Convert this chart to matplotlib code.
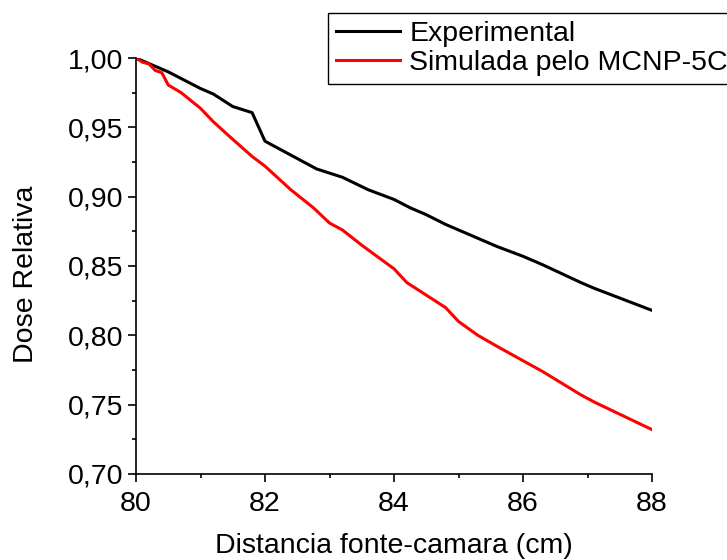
import matplotlib
matplotlib.use("Agg")
import matplotlib.pyplot as plt
from matplotlib.ticker import MultipleLocator, FuncFormatter

plt.rcParams['font.family'] = ['Liberation Sans', 'DejaVu Sans']

exp_x = [80.0, 80.2, 80.5, 81.0, 81.2, 81.5, 81.8, 82.0, 82.4, 82.8, 83.2, 83.6,
         84.0, 84.25, 84.5, 84.8, 85.2, 85.6, 86.0, 86.3, 86.9, 87.1, 88.0]
exp_y = [1.000, 0.996, 0.990, 0.978, 0.974, 0.965, 0.9606, 0.940, 0.930, 0.920, 0.914, 0.905,
         0.898, 0.892, 0.887, 0.880, 0.872, 0.864, 0.857, 0.851, 0.838, 0.834, 0.818]

sim_x = [80.0, 80.1, 80.2, 80.3, 80.4, 80.5, 80.7, 81.0, 81.2, 81.46, 81.8, 82.0,
         82.4, 82.75, 83.0, 83.2, 83.5, 84.0, 84.2, 84.8, 85.0, 85.3, 85.6, 86.3,
         86.9, 87.1, 88.0]
sim_y = [1.000, 0.997, 0.9957, 0.991, 0.9894, 0.9805, 0.975, 0.9637, 0.954, 0.943, 0.929, 0.922,
         0.905, 0.892, 0.881, 0.876, 0.865, 0.848, 0.838, 0.820, 0.810, 0.800, 0.792, 0.774,
         0.757, 0.752, 0.732]

FS = 20.5

fig = plt.figure(figsize=(7.27, 5.6), dpi=100)
ax = fig.add_axes([136/727, 86/560, (652-136)/727, (474-58)/560])

l1, = ax.plot(exp_x, exp_y, color='black', lw=2.2, label='Experimental')
l2, = ax.plot(sim_x, sim_y, color='#ff0000', lw=2.2, label='Simulada pelo MCNP-5C')

ax.set_xlim(80, 88)
ax.set_ylim(0.70, 1.00)
ax.xaxis.set_major_locator(MultipleLocator(2))
ax.xaxis.set_minor_locator(MultipleLocator(1))
ax.yaxis.set_major_locator(MultipleLocator(0.05))
ax.yaxis.set_minor_locator(MultipleLocator(0.025))
ax.yaxis.set_major_formatter(FuncFormatter(lambda v, p: f"{v:.2f}".replace('.', ',')))

for s in ['top', 'right']:
    ax.spines[s].set_visible(False)
for s in ['left', 'bottom']:
    ax.spines[s].set_linewidth(1.2)
ax.tick_params(which='major', direction='out', length=6, width=1.2, labelsize=FS, pad=3)
ax.tick_params(axis='x', which='major', pad=6)
ax.tick_params(which='minor', direction='out', length=3, width=1.2)

ax.set_xlabel('Distancia fonte-camara (cm)', fontsize=FS)
ax.set_ylabel('Dose Relativa', fontsize=FS)
ax.xaxis.set_label_coords(0.5, (474 - 533) / 416)
ax.yaxis.set_label_coords((39 - 136) / 516, 0.48)

leg = fig.legend(handles=[l1, l2], loc='upper left', bbox_to_anchor=(328/727, 1 - 13/560),
                 fontsize=FS, frameon=True, fancybox=False, framealpha=1,
                 edgecolor='black', handlelength=2.25, handletextpad=0.32,
                 borderpad=0.28, labelspacing=0.12, borderaxespad=0)
leg.get_frame().set_linewidth(1.0)

fig.savefig('out.png', dpi=100)
